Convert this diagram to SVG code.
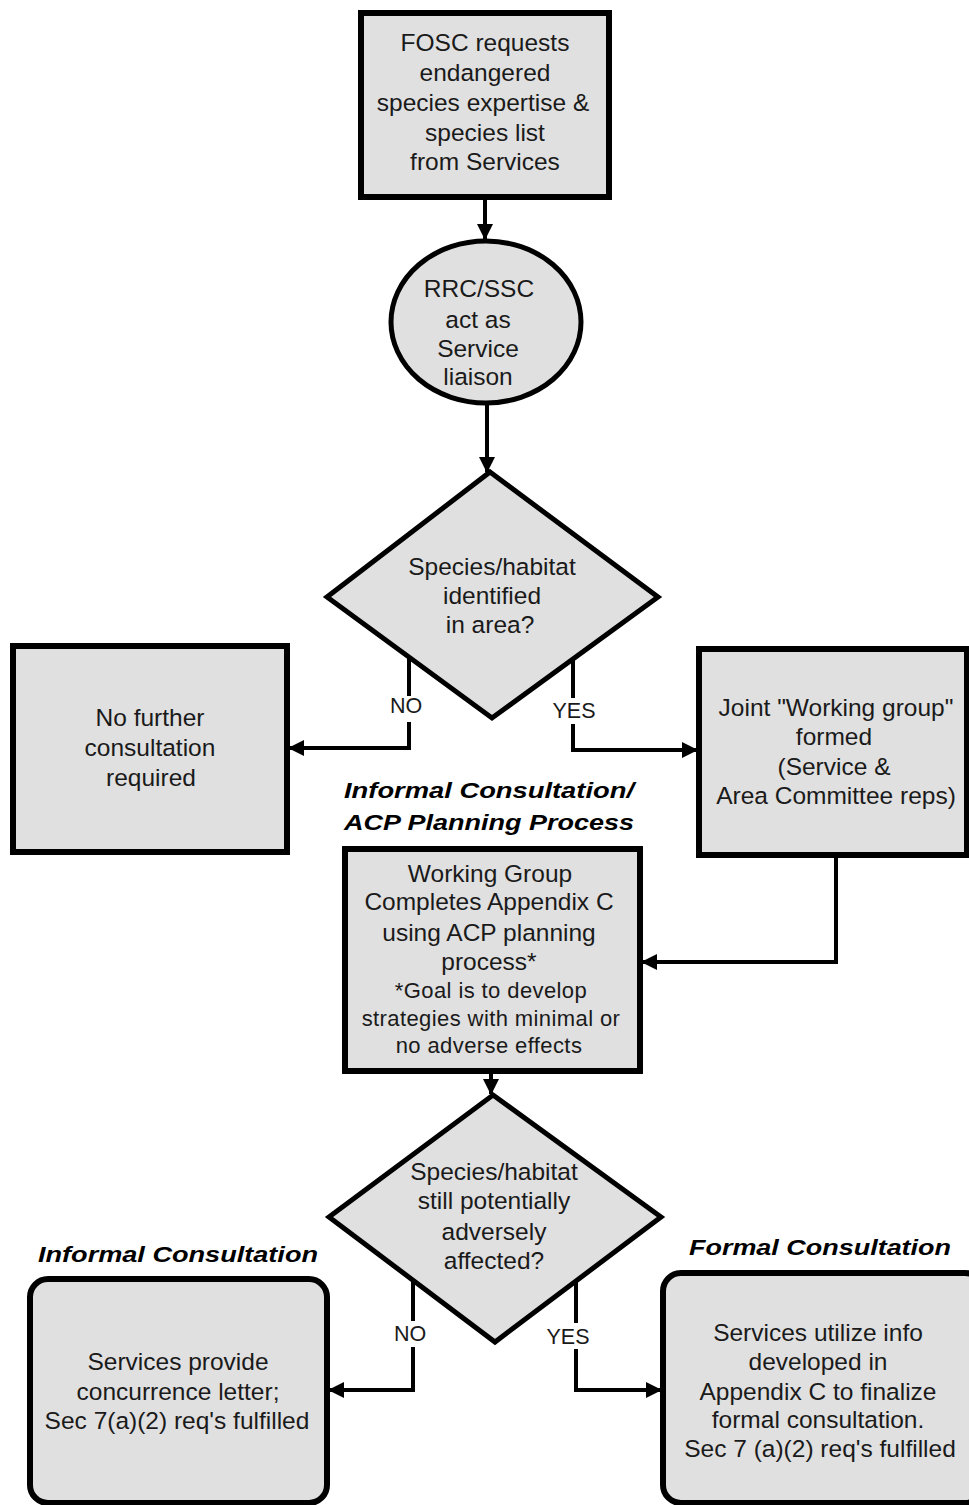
<svg xmlns="http://www.w3.org/2000/svg" width="969" height="1505" viewBox="0 0 969 1505">
<style>
.node{fill:#e0e0e0;stroke:#000;stroke-width:6}
.t{font-family:"Liberation Sans",Arial,sans-serif;font-size:24.5px;fill:#1a1a1a;text-anchor:middle}
.s{font-size:22px;letter-spacing:0.4px}
.lbl{font-family:"Liberation Sans",Arial,sans-serif;font-size:21.5px;fill:#1a1a1a;text-anchor:middle}
.h{font-family:"Liberation Sans",Arial,sans-serif;font-size:22px;font-weight:bold;font-style:italic;fill:#000;text-anchor:middle}
.c{fill:none;stroke:#000;stroke-width:4}
</style>
<defs>
<marker id="arr" viewBox="0 0 16 16" refX="15" refY="8" markerWidth="16" markerHeight="16" orient="auto" markerUnits="userSpaceOnUse">
<path d="M0,0 L16,8 L0,16 z" fill="#000"/>
</marker>
</defs>
<rect width="969" height="1505" fill="#fff"/>

<g id="connectors">
<path class="c" d="M485,198 V239" marker-end="url(#arr)"/>
<path class="c" d="M487,403 V472" marker-end="url(#arr)"/>
<path class="c" d="M409,658 V748 H289" marker-end="url(#arr)"/>
<path class="c" d="M573,659 V750 H697" marker-end="url(#arr)"/>
<path class="c" d="M836,857 V962 H642" marker-end="url(#arr)"/>
<path class="c" d="M491,1073 V1094" marker-end="url(#arr)"/>
<path class="c" d="M413,1281 V1390 H329" marker-end="url(#arr)"/>
<path class="c" d="M576,1281 V1390 H661" marker-end="url(#arr)"/>
<rect x="386" y="696" width="44" height="26" fill="#fff"/>
<text class="lbl" x="406" y="713">NO</text>
<rect x="548" y="698" width="52" height="26" fill="#fff"/>
<text class="lbl" x="574" y="718">YES</text>
<rect x="390" y="1321" width="44" height="26" fill="#fff"/>
<text class="lbl" x="410" y="1341">NO</text>
<rect x="543" y="1323" width="52" height="26" fill="#fff"/>
<text class="lbl" x="568" y="1344">YES</text>
</g>

<g id="n1">
<rect class="node" x="361" y="13" width="248" height="184"/>
<text class="t" x="485" y="51">FOSC requests</text>
<text class="t" x="485" y="81">endangered</text>
<text class="t" x="483" y="111">species expertise &amp;</text>
<text class="t" x="485" y="141">species list</text>
<text class="t" x="485" y="170">from Services</text>
</g>

<g id="n2">
<ellipse class="node" style="stroke-width:5" cx="486" cy="322" rx="95" ry="81"/>
<text class="t" x="479" y="297">RRC/SSC</text>
<text class="t" x="478" y="328">act as</text>
<text class="t" x="478" y="357">Service</text>
<text class="t" x="478" y="385">liaison</text>
</g>

<g id="n3">
<polygon class="node" style="stroke-width:5" points="490,472 658,597 492,718 327,597"/>
<text class="t" x="492" y="575">Species/habitat</text>
<text class="t" x="492" y="604">identified</text>
<text class="t" x="490" y="633">in area?</text>
</g>

<g id="n4">
<rect class="node" x="13" y="646" width="274" height="206"/>
<text class="t" x="150" y="726">No further</text>
<text class="t" x="150" y="756">consultation</text>
<text class="t" x="151" y="786">required</text>
</g>

<g id="n5">
<rect class="node" x="699" y="649" width="268" height="206"/>
<text class="t" x="836" y="716">Joint "Working group"</text>
<text class="t" x="834" y="745">formed</text>
<text class="t" x="834" y="775">(Service &amp;</text>
<text class="t" x="836" y="804">Area Committee reps)</text>
</g>

<text class="h" x="489" y="798" textLength="290" lengthAdjust="spacingAndGlyphs">Informal Consultation/</text>
<text class="h" x="489" y="830" textLength="290" lengthAdjust="spacingAndGlyphs">ACP Planning Process</text>

<g id="n6">
<rect class="node" x="345" y="849" width="295" height="222"/>
<text class="t" x="490" y="882">Working Group</text>
<text class="t" x="489" y="910">Completes Appendix C</text>
<text class="t" x="489" y="941">using ACP planning</text>
<text class="t" x="489" y="970">process*</text>
<text class="t s" x="491" y="998">*Goal is to develop</text>
<text class="t s" x="491" y="1026">strategies with minimal or</text>
<text class="t s" x="489" y="1053">no adverse effects</text>
</g>

<g id="n7">
<polygon class="node" style="stroke-width:5" points="493,1095 661,1217 495,1342 329,1217"/>
<text class="t" x="494" y="1180">Species/habitat</text>
<text class="t" x="494" y="1209">still potentially</text>
<text class="t" x="494" y="1240">adversely</text>
<text class="t" x="494" y="1269">affected?</text>
</g>

<text class="h" x="178" y="1262" textLength="280" lengthAdjust="spacingAndGlyphs">Informal Consultation</text>
<text class="h" x="820" y="1255" textLength="262" lengthAdjust="spacingAndGlyphs">Formal Consultation</text>

<g id="n8">
<rect class="node" x="30" y="1279" width="297" height="224" rx="18"/>
<text class="t" x="178" y="1370">Services provide</text>
<text class="t" x="178" y="1400">concurrence letter;</text>
<text class="t" x="177" y="1429">Sec 7(a)(2) req's fulfilled</text>
</g>

<g id="n9">
<rect class="node" x="663" y="1273" width="320" height="230" rx="18"/>
<text class="t" x="818" y="1341">Services utilize info</text>
<text class="t" x="818" y="1370">developed in</text>
<text class="t" x="818" y="1400">Appendix C to finalize</text>
<text class="t" x="818" y="1428">formal consultation.</text>
<text class="t" x="820" y="1457">Sec 7 (a)(2) req's fulfilled</text>
</g>
</svg>
